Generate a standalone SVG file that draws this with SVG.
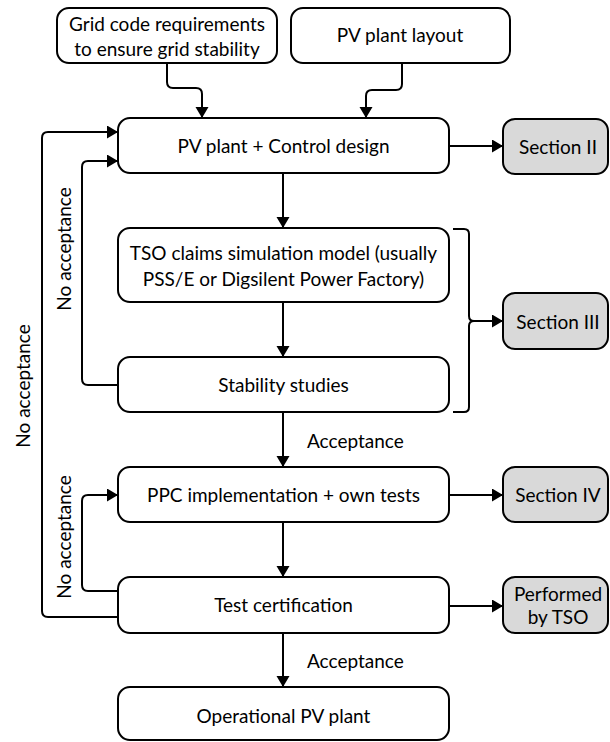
<svg xmlns="http://www.w3.org/2000/svg" width="610" height="742" viewBox="0 0 610 742">
<style>
.box{fill:#fff;stroke:#000;stroke-width:2}
.sec{fill:#d9d9d9;stroke:#000;stroke-width:2}
.t{font-family:Lato,"Open Sans",sans-serif;font-size:19px;fill:#000;text-anchor:middle}
.l{font-family:Lato,"Open Sans",sans-serif;font-size:19px;fill:#000}
.c{fill:none;stroke:#000;stroke-width:2}
.a{marker-end:url(#ah)}
</style>
<defs>
<marker id="ah" markerUnits="userSpaceOnUse" markerWidth="12" markerHeight="14" refX="11" refY="6.5" orient="auto">
<path d="M0,0 L11,6.5 L0,13 z" fill="#000"/>
</marker>
</defs>
<rect width="610" height="742" fill="#fff"/>
<g id="connectors">
<path class="c a" d="M167,63 V82 Q167,88 173,88 H196 Q202,88 202,94 V118"/>
<path class="c a" d="M402,63 V84 Q402,90 396,90 H372 Q366,90 366,96 V118"/>
<path class="c a" d="M449,146 H503"/>
<path class="c a" d="M283,173 V228"/>
<path class="c a" d="M283,302 V357"/>
<path class="c a" d="M283,412 V467"/>
<path class="c a" d="M283,522 V577"/>
<path class="c a" d="M283,633 V687"/>
<path class="c a" d="M449,495 H503"/>
<path class="c a" d="M449,606 H503"/>
<path class="c" d="M453,229 H464 Q469,229 469,234 V316 Q469,321 474,321 Q469,321 469,326 V407 Q469,412 464,412 H453"/>
<path class="c a" d="M474,321 H503"/>
<path class="c a" d="M118,385 H88 Q82,385 82,379 V167 Q82,161 88,161 H118"/>
<path class="c a" d="M118,617 H48 Q42,617 42,611 V138 Q42,132 48,132 H118"/>
<path class="c a" d="M118,591 H88 Q82,591 82,585 V501 Q82,495 88,495 H118"/>
<text class="l" x="307" y="448">Acceptance</text>
<text class="l" x="307" y="668">Acceptance</text>
<text class="t" transform="translate(23,386) rotate(-90)" y="6.5">No acceptance</text>
<text class="t" transform="translate(64,249) rotate(-90)" y="6.5">No acceptance</text>
<text class="t" transform="translate(64,537) rotate(-90)" y="6.5">No acceptance</text>
</g>
<g id="grid-code">
<rect class="box" x="57" y="8" width="220" height="55" rx="12"/>
<text class="t" x="167" y="30.5">Grid code requirements</text>
<text class="t" x="167" y="55.5">to ensure grid stability</text>
</g>
<g id="pv-layout">
<rect class="box" x="291" y="8" width="219" height="55" rx="12"/>
<text class="t" x="400" y="41.5">PV plant layout</text>
</g>
<g id="design">
<rect class="box" x="118" y="118" width="331" height="55" rx="12"/>
<text class="t" x="283.5" y="152.5">PV plant + Control design</text>
</g>
<g id="section2">
<rect class="sec" x="503" y="119" width="105" height="55" rx="12"/>
<text class="t" x="558" y="153.5">Section II</text>
</g>
<g id="tso-model">
<rect class="box" x="118" y="228" width="331" height="74" rx="12"/>
<text class="t" x="283.5" y="259.5">TSO claims simulation model (usually</text>
<text class="t" x="283.5" y="285.5">PSS/E or Digsilent Power Factory)</text>
</g>
<g id="stability">
<rect class="box" x="118" y="357" width="331" height="55" rx="12"/>
<text class="t" x="283.5" y="391.5">Stability studies</text>
</g>
<g id="section3">
<rect class="sec" x="503" y="293" width="105" height="56" rx="12"/>
<text class="t" x="558" y="328.5">Section III</text>
</g>
<g id="ppc">
<rect class="box" x="118" y="467" width="331" height="55" rx="12"/>
<text class="t" x="283.5" y="501.5">PPC implementation + own tests</text>
</g>
<g id="section4">
<rect class="sec" x="503" y="467" width="105" height="55" rx="12"/>
<text class="t" x="558" y="501.5">Section IV</text>
</g>
<g id="test-cert">
<rect class="box" x="118" y="577" width="331" height="56" rx="12"/>
<text class="t" x="283.5" y="611.5">Test certification</text>
</g>
<g id="performed">
<rect class="sec" x="503" y="577" width="105" height="56" rx="12"/>
<text class="t" x="558" y="600.5">Performed</text>
<text class="t" x="558" y="623.5">by TSO</text>
</g>
<g id="operational">
<rect class="box" x="118" y="687" width="331" height="53" rx="12"/>
<text class="t" x="283.5" y="722.5">Operational PV plant</text>
</g>
</svg>
